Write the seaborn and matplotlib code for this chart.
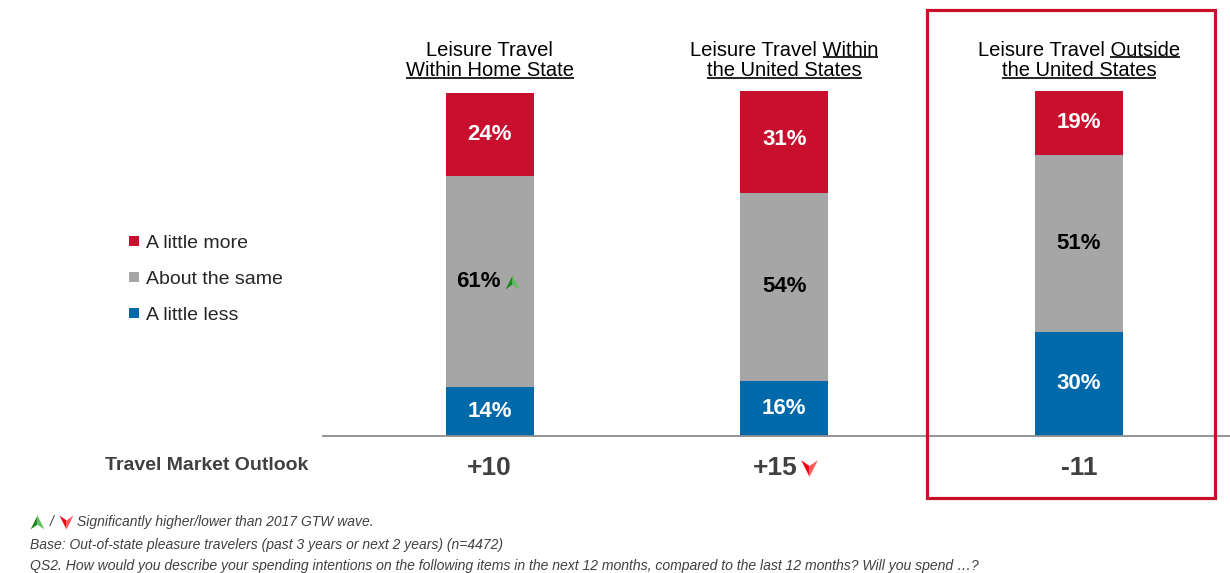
import numpy as np
import pandas as pd
import matplotlib
matplotlib.use("Agg")
import matplotlib.pyplot as plt
import matplotlib.transforms as mtransforms
from matplotlib.path import Path
from matplotlib.patches import Rectangle
from matplotlib.lines import Line2D
import seaborn as sns

# ---------------- data ----------------
categories = ["Within Home State", "Within the United States", "Outside the United States"]
title_line1 = ["Leisure Travel", "Leisure Travel Within", "Leisure Travel Outside"]
title_line2 = ["Within Home State", "the United States", "the United States"]
title_line1_underlined = ["", "Within", "Outside"]
little_less = [14, 16, 30]
about_same = [61, 54, 51]
little_more = [24, 31, 19]
outlook_values = ["+10", "+15", "-11"]
same_significance = ["up", None, None]
outlook_significance = [None, "down", None]
series_labels = ["A little more", "About the same", "A little less"]
row_label = "Travel Market Outlook"
footnotes = [
    "Significantly higher/lower than 2017 GTW wave.",
    "Base: Out-of-state pleasure travelers (past 3 years or next 2 years) (n=4472)",
    "QS2. How would you describe your spending intentions on the following items in the next 12 months, compared to the last 12 months? Will you spend \u2026?",
]

RED = "#C8102E"
GRAY = "#A6A6A6"
BLUE = "#0069AA"
DARK = "#404040"
GREEN_L, GREEN_D = "#1E861E", "#5CBF5C"
RED_L, RED_D = "#F00010", "#FF5A5A"

sns.set_theme(style="white")
plt.rcParams["font.family"] = ["Liberation Sans", "DejaVu Sans"]

W, H = 1230, 573
fig = plt.figure(figsize=(W / 100, H / 100), dpi=100)
fig.patch.set_facecolor("white")

# main axes: baseline at y=436 px, bar top (100%) at y=91 px
ax = fig.add_axes([323 / W, 1 - 436 / H, 907 / W, 345 / H])

df = pd.DataFrame({
    "category": categories,
    "less": little_less,
    "same": about_same,
    "more": little_more,
})

segments = [("less", BLUE, "white"), ("same", GRAY, "black"), ("more", RED, "white")]
bottom = np.zeros(len(categories))
label_info = []
for col, color, tcolor in segments:
    sns.barplot(data=df, x="category", y=col, order=categories, color=color,
                saturation=1, width=0.30, bottom=bottom.copy(), errorbar=None,
                ax=ax, linewidth=0)
    for i, v in enumerate(df[col].to_numpy()):
        label_info.append((i, bottom[i] + v / 2, v, tcolor, col))
    bottom = bottom + df[col].to_numpy()

ax.set_xlim(-0.566, 2.513)
ax.set_ylim(0, 99.5)
ax.set_xlabel("")
ax.set_ylabel("")
ax.set_xticks([])
ax.set_yticks([])
for s in ["top", "right", "left"]:
    ax.spines[s].set_visible(False)
ax.spines["bottom"].set_color("#8C8C8C")
ax.spines["bottom"].set_linewidth(1.3)

# overlay axes in pixel coordinates for annotations
ov = fig.add_axes([0, 0, 1, 1])
ov.set_xlim(0, W)
ov.set_ylim(H, 0)
ov.axis("off")

renderer = fig.canvas.get_renderer()


def arrow_marker(direction, half):
    # notched arrow head; left / right halves
    s = 1 if direction == "up" else -1
    tip, base_l, base_r, notch = (0, s * 1), (-1.0, -s * 1), (1.0, -s * 1), (0, -s * 0.3)
    if half == "left":
        verts = [tip, notch, base_l, tip]
    else:
        verts = [tip, base_r, notch, tip]
    return Path(verts, [Path.MOVETO, Path.LINETO, Path.LINETO, Path.CLOSEPOLY])


def draw_arrow(x_px, y_px, direction, size=10):
    cl, cd = (GREEN_L, GREEN_D) if direction == "up" else (RED_L, RED_D)
    ov.plot([x_px], [y_px], marker=arrow_marker(direction, "left"), markersize=size,
            color=cl, markeredgewidth=0, linestyle="none")
    ov.plot([x_px], [y_px], marker=arrow_marker(direction, "right"), markersize=size,
            color=cd, markeredgewidth=0, linestyle="none")


def to_px(xd, yd):
    inv = ov.transData.inverted()
    return inv.transform((xd, yd))


# segment labels
for i, yc, v, tcolor, col in label_info:
    sig = same_significance[i] if col == "same" else None
    t = ax.text(i, yc, f"{v}%", ha="center", va="center", fontsize=16,
                fontweight="bold", color=tcolor)
    if sig:
        t.set_position((i - 0.04, yc))
        bb = t.get_window_extent(renderer)
        px, py = to_px(bb.x1, (bb.y0 + bb.y1) / 2)
        draw_arrow(px + 12, py, sig, size=10)

# column titles with (partial) underlines
blend = mtransforms.blended_transform_factory(ax.transData, fig.transFigure)
title_kw = dict(ha="center", va="center", fontsize=14.5, color="black")


def underline(text_obj, substring=None):
    bb = text_obj.get_window_extent(renderer)
    x1 = bb.x1
    if substring:
        tmp = fig.text(0, 0, substring, fontsize=text_obj.get_fontsize())
        w = tmp.get_window_extent(renderer).width
        tmp.remove()
        x0 = x1 - w
    else:
        x0 = bb.x0
    y = bb.y0 + 2.5
    (a0, b0) = to_px(x0, y)
    (a1, b1) = to_px(x1, y)
    ov.plot([a0, a1], [b0, b1], color="black", linewidth=1.2, solid_capstyle="butt")


for i in range(len(categories)):
    t1 = ax.text(i, 1 - 50 / H, title_line1[i], transform=blend, **title_kw)
    t2 = ax.text(i, 1 - 70.5 / H, title_line2[i], transform=blend, **title_kw)
    if title_line1_underlined[i]:
        underline(t1, title_line1_underlined[i])
    underline(t2)

# travel market outlook row
fig.text(105 / W, 1 - 465 / H, row_label, ha="left", va="center", fontsize=14,
         fontweight="bold", color=DARK)
for i, val in enumerate(outlook_values):
    t = ax.text(i, 1 - 468 / H, val, transform=blend, ha="center", va="center",
                fontsize=19, fontweight="bold", color=DARK)
    if outlook_significance[i]:
        t.set_position((i - 0.03, 1 - 468 / H))
        bb = t.get_window_extent(renderer)
        px, py = to_px(bb.x1, (bb.y0 + bb.y1) / 2)
        draw_arrow(px + 11, py, outlook_significance[i], size=12)

# legend
handles = [Line2D([], [], marker="s", linestyle="none", markersize=7,
                  markerfacecolor=c, markeredgewidth=0)
           for c in [RED, GRAY, BLUE]]
fig.legend(handles, series_labels, loc="upper left",
           bbox_to_anchor=(128 / W, 1 - 234 / H), frameon=False, fontsize=14,
           handlelength=0.6, handletextpad=0.35, labelspacing=0.95,
           borderaxespad=0, borderpad=0)

# highlight box around third column
ov.add_patch(Rectangle((927, 10), 288, 488, fill=False, edgecolor=RED,
                       linewidth=2.3))

# footnotes
draw_arrow(37, 522, "up", size=10)
ov.text(50, 522, "/", ha="left", va="center", fontsize=10, style="italic", color=DARK)
draw_arrow(66, 522, "down", size=10)
ov.text(77, 522, footnotes[0], ha="left", va="center", fontsize=10,
        style="italic", color=DARK)
ov.text(30, 545, footnotes[1], ha="left", va="center", fontsize=10,
        style="italic", color=DARK)
ov.text(30, 566, footnotes[2], ha="left", va="center", fontsize=10.1,
        style="italic", color=DARK)

fig.savefig("out.png", dpi=100, facecolor="white")
